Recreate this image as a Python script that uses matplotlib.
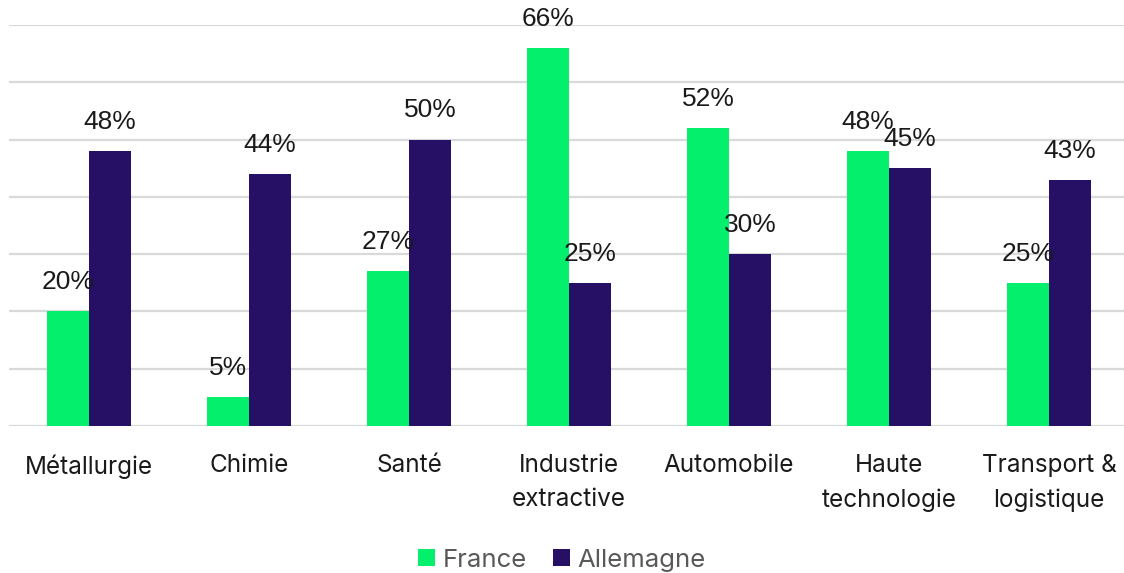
import matplotlib.pyplot as plt
import numpy as np

categories = ['Métallurgie', 'Chimie', 'Santé', 'Industrie\nextractive',
              'Automobile', 'Haute\ntechnologie', 'Transport &\nlogistique']
france = [20, 5, 27, 66, 52, 48, 25]
allemagne = [48, 44, 50, 25, 30, 45, 43]

GREEN = '#03ef6c'
NAVY = '#261066'


def main():
    fig = plt.figure(figsize=(11.24, 5.73), dpi=100)
    ax = fig.add_axes([9 / 1124, 1 - 426 / 573, 1120 / 1124, (426 - 25) / 573])

    x = np.arange(len(categories))
    w = 0.263
    b1 = ax.bar(x - w / 2, france, w, color=GREEN, label='France', zorder=3)
    b2 = ax.bar(x + w / 2, allemagne, w, color=NAVY, label='Allemagne', zorder=3)

    for bars, vals in ((b1, france), (b2, allemagne)):
        for rect, v in zip(bars, vals):
            ax.annotate(f'{v}%', (rect.get_x() + rect.get_width() / 2, v),
                        xytext=(0, 21), textcoords='offset points',
                        ha='center', va='center', fontsize=19,
                        family='Liberation Sans', color='#1a1a1a', zorder=4)

    ax.set_xlim(-0.5, len(categories) - 0.5)
    ax.set_ylim(0, 70)
    ax.set_yticks(np.arange(0, 71, 10))
    ax.yaxis.grid(True, color='#d9d9d9', linewidth=1.6, zorder=0)
    ax.tick_params(axis='y', left=False, labelleft=False)
    ax.tick_params(axis='x', bottom=False, pad=17)
    ax.set_xticks(x)
    ax.set_xticklabels(categories, fontsize=17.5, family='Inter',
                       color='#1a1a1a', linespacing=1.6, va='top')
    for s in ax.spines.values():
        s.set_visible(False)

    fig.legend(loc='lower center', ncol=2, frameon=False,
               prop={'family': 'Inter', 'size': 18.5},
               bbox_to_anchor=(0.5, -0.038), handlelength=0.65, handleheight=0.65,
               handletextpad=0.3, columnspacing=1.0, labelcolor='#595959')

    fig.savefig('out.png', dpi=100)


if __name__ == '__main__':
    main()
